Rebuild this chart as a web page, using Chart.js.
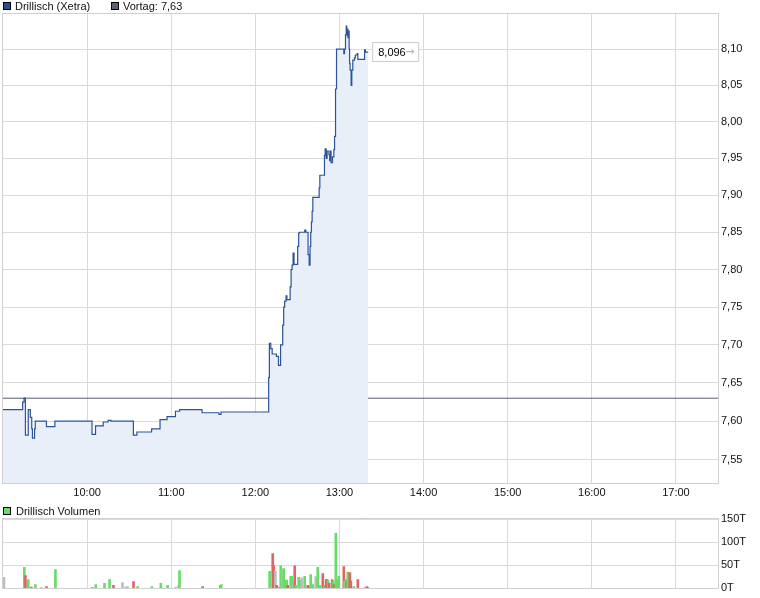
<!DOCTYPE html>
<html>
<head>
<meta charset="utf-8">
<script src="https://cdn.jsdelivr.net/npm/chart.js@4"></script>
<style>
body{margin:0;background:#fff;font-family:"Liberation Sans",Arial,sans-serif;font-size:11px;}
#wrap{position:relative;width:760px;height:598px;overflow:hidden;}
canvas{position:absolute;left:0;}
.leg{position:absolute;line-height:12px;white-space:nowrap;color:#111;}
.sq{position:absolute;width:6px;height:6px;border:1px solid #000;}
</style>
</head>
<body>
<div id="wrap">
  <canvas id="price" width="760" height="500" style="top:0"></canvas>
  <canvas id="vol" width="760" height="98" style="top:500px"></canvas>
  <span class="sq" style="left:3px;top:2px;background:#2a4e92"></span>
  <span class="leg" style="left:15px;top:0px">Drillisch (Xetra)</span>
  <span class="sq" style="left:111px;top:2px;background:#5b6075"></span>
  <span class="leg" style="left:123px;top:0px">Vortag: 7,63</span>
  <span class="sq" style="left:3px;top:507px;background:#66dd66"></span>
  <span class="leg" style="left:16px;top:505px">Drillisch Volumen</span>
</div>
<script>
// minutes after 09:00
var priceTime = [0,14,15,16,18,19.5,20.5,21,22.5,23,31,37,63.5,66,71.5,75,77,93,95.5,106,112,117,123,126,142,154,155.5,
  189.5,190,191,192,195,196.5,198,199.5,200.2,200.9,201.9,202.5,204.8,205.5,206.2,206.9,207.6,210.2,210.9,211.5,215.2,216,
  217.6,218.4,219,219.5,220,220.5,221,225.5,226,229.3,229.8,230.5,231.2,232.5,233,233.6,234,235,236,236.5,237.2,237.9,
  243.1,243.6,244.3,244.8,245.2,245.5,246,246.4,246.9,247.2,247.6,248.3,248.8,249.5,250.7,251.3,252.6,253.1,257.9,258.5,260.5];
var priceValue = [7.615,7.625,7.630,7.582,7.615,7.605,7.590,7.578,7.590,7.600,7.593,7.600,7.583,7.594,7.599,7.601,7.600,7.582,7.586,7.590,7.602,7.606,7.613,7.615,7.611,7.609,7.612,
  7.657,7.702,7.695,7.688,7.685,7.673,7.700,7.726,7.750,7.758,7.765,7.760,7.777,7.800,7.806,7.822,7.807,7.831,7.849,7.850,7.853,7.850,
  7.820,7.806,7.831,7.850,7.864,7.878,7.897,7.910,7.927,7.954,7.963,7.950,7.960,7.955,7.947,7.960,7.944,7.952,7.962,7.980,8.045,8.100,
  8.094,8.100,8.120,8.132,8.120,8.128,8.116,8.125,8.100,8.080,8.071,8.050,8.071,8.085,8.088,8.092,8.094,8.086,8.099,8.096,8.096];
var prevClose = 7.63;

var hourTicks = [60,120,180,240,300,360,420,480];
var hourLabels = ['10:00','11:00','12:00','13:00','14:00','15:00','16:00','17:00'];
var priceTicks = [7.55,7.60,7.65,7.70,7.75,7.80,7.85,7.90,7.95,8.00,8.05,8.10];

var volTime = [0.7,15.2,16,18,20.2,23.1,27.4,31,37.4,63.8,66.2,72.4,76,78.8,85.2,87.4,88.8,93.1,96,106.2,112.6,117.4,123.1,125.2,125.9,
  142.4,155.2,155.7,190.2,192.4,193.1,194.3,195.2,197.4,198.1,199.5,200.2,200.9,202.4,203.1,205.2,205.9,207.4,208.1,208.8,
  210.9,212.4,213.1,215.2,217.4,218.1,219.5,220.9,223.1,224.5,225.9,228.1,229.5,230.5,231.2,231.9,232.6,234.8,235.5,236.2,
  237.4,238.1,239.5,243.1,243.8,244.5,245.2,245.9,247.4,248.1,250.2,253.1,258.1,259.5,260.2];
var volAmount = [24,45.5,27.7,19,3,8.5,2,4,40.5,2,8.5,10.7,19,6.4,12.8,3,4,15,4,4,10.7,6.4,2,6.4,38.4,
  4,6.4,8.5,37,75,49,37,6.4,3,49,39,42.7,17.8,17.8,6.4,26,26,12.8,49,6.4,
  24,17.8,22.8,26,6.4,4,30,8.5,25.6,45.5,6.4,32,6.4,19,19,17,10.7,19,15.6,8.5,
  119,19,26,47,15.6,19,15.6,35.5,34,15.6,4,19,2,4,2];
var volDir = ['n','u','d','u','d','u','n','d','u','d','u','u','u','d','n','n','n','d','u','u','u','u','u','n','u',
  'd','d','u','u','d','d','n','d','d','u','n','u','u','u','d','u','u','n','d','u',
  'u','u','n','u','d','d','u','u','n','u','u','d','u','d','d','u','d','d','u','d',
  'u','u','u','d','n','u','d','u','d','d','u','d','u','d','d'];
var volTicks = [0,50,100,150];

var dirColor = {u:'#66dd66', d:'#e06464', n:'#bdbdbd'};
var gridCol = '#dadada';
var tickFont = {family:'"Liberation Sans", Arial, sans-serif', size:11};

var frame = {
  id:'frame',
  afterDraw: function(chart){
    var a = chart.chartArea, c = chart.ctx;
    c.save();
    c.strokeStyle = '#d0d0d0';
    c.lineWidth = 1;
    c.strokeRect(Math.round(a.left)-0.5, Math.round(a.top)-0.5, Math.round(a.right-a.left)+1, Math.round(a.bottom-a.top)+1);
    c.restore();
  }
};

var lastLabel = {
  id:'lastLabel',
  afterDraw: function(chart){
    var n = priceTime.length - 1;
    var x = chart.scales.x.getPixelForValue(priceTime[n]);
    var y = Math.round(chart.scales.y.getPixelForValue(priceValue[n]));
    var c = chart.ctx;
    c.save();
    c.fillStyle = '#fff';
    c.strokeStyle = '#cccccc';
    c.fillRect(x + 4.5, y - 9.5, 46, 19);
    c.strokeRect(x + 4.5, y - 9.5, 46, 19);
    c.font = '11px "Liberation Sans", Arial, sans-serif';
    c.textBaseline = 'middle';
    c.fillStyle = '#000';
    c.fillText(priceValue[n].toFixed(3).replace('.', ','), x + 10, y + 1);
    c.fillStyle = '#bbbbbb';
    c.font = 'bold 11px "DejaVu Sans", sans-serif';
    c.fillText('\u2192', x + 37, y);
    c.restore();
  }
};

new Chart(document.getElementById('price'), {
  type:'line',
  data:{
    datasets:[
      {
        data: priceTime.map(function(t,i){ return {x:t, y:priceValue[i]}; }),
        borderColor:'#2c5497',
        borderWidth:1.2,
        backgroundColor:'#e8eff9',
        fill:'start',
        stepped:'before',
        pointRadius:0
      },
      {
        data:[{x:0, y:prevClose},{x:510, y:prevClose}],
        borderColor:'#565c6c',
        borderWidth:1,
        fill:false,
        pointRadius:0
      }
    ]
  },
  options:{
    responsive:false,
    animation:false,
    events:[],
    layout:{padding:{top:14, left:3, right:0, bottom:0}},
    plugins:{legend:{display:false}, tooltip:{enabled:false}},
    scales:{
      x:{
        type:'linear', min:0, max:510,
        afterBuildTicks:function(s){ s.ticks = hourTicks.map(function(v){ return {value:v}; }); },
        afterFit:function(s){ s.height = 17; },
        ticks:{
          callback:function(v){ return hourLabels[hourTicks.indexOf(v)]; },
          font:tickFont, color:'#111', padding:3, maxRotation:0, autoSkip:false
        },
        grid:{color:gridCol, drawTicks:false},
        border:{display:false}
      },
      y:{
        type:'logarithmic', position:'right', min:7.521, max:8.149,
        afterBuildTicks:function(s){ s.ticks = priceTicks.map(function(v){ return {value:v}; }); },
        afterFit:function(s){ s.width = 42; },
        ticks:{
          callback:function(v){ return Number(v).toFixed(2).replace('.', ','); },
          font:tickFont, color:'#111', padding:3, autoSkip:false
        },
        grid:{color:gridCol, drawTicks:false},
        border:{display:false}
      }
    }
  },
  plugins:[frame, lastLabel]
});

new Chart(document.getElementById('vol'), {
  type:'bar',
  data:{
    datasets:[{
      data: volTime.map(function(t,i){ return {x:t, y:volAmount[i]}; }),
      backgroundColor: volDir.map(function(d){ return dirColor[d]; }),
      barThickness:2,
      borderWidth:0
    }]
  },
  options:{
    responsive:false,
    animation:false,
    events:[],
    layout:{padding:{top:19, left:3, right:0, bottom:0}},
    plugins:{legend:{display:false}, tooltip:{enabled:false}},
    scales:{
      x:{
        type:'linear', min:0, max:510, offset:false,
        afterBuildTicks:function(s){ s.ticks = hourTicks.map(function(v){ return {value:v}; }); },
        afterFit:function(s){ s.height = 9; },
        ticks:{display:false},
        grid:{color:gridCol, drawTicks:false, offset:false},
        border:{display:false}
      },
      y:{
        position:'right', min:0, max:150,
        afterBuildTicks:function(s){ s.ticks = volTicks.map(function(v){ return {value:v}; }); },
        afterFit:function(s){ s.width = 42; },
        ticks:{
          callback:function(v){ return v + 'T'; },
          font:tickFont, color:'#111', padding:3, autoSkip:false
        },
        grid:{color:gridCol, drawTicks:false},
        border:{display:false}
      }
    }
  },
  plugins:[frame]
});
</script>
</body>
</html>
